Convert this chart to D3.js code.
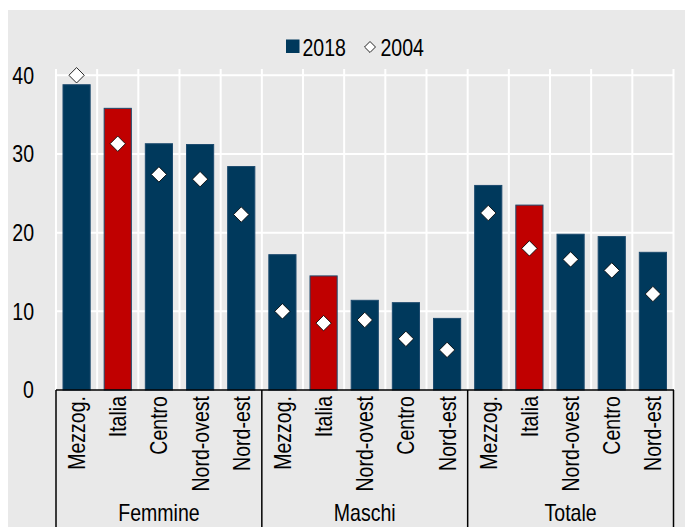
<!DOCTYPE html>
<html>
<head>
<meta charset="utf-8">
<script src="https://d3js.org/d3.v7.min.js"></script>
<style>
  body { margin: 0; background: #fff; }
  svg text { font-family: "Liberation Sans", Arial, sans-serif; fill: #000; }
</style>
</head>
<body>
<div id="chart"></div>
<script>
// categories, groups and values
const categories = ["Mezzog.", "Italia", "Centro", "Nord-ovest", "Nord-est",
                    "Mezzog.", "Italia", "Nord-ovest", "Centro", "Nord-est",
                    "Mezzog.", "Italia", "Nord-ovest", "Centro", "Nord-est"];
const groups = ["Femmine", "Maschi", "Totale"];
const groupSizes = [5, 5, 5];
const values2018 = [38.8, 35.8, 31.3, 31.2, 28.4,
                    17.2, 14.5, 11.4, 11.1, 9.1,
                    26.0, 23.5, 19.8, 19.5, 17.5];
const values2004 = [40.0, 31.3, 27.4, 26.8, 22.3,
                    10.0, 8.5, 8.9, 6.5, 5.1,
                    22.5, 18.0, 16.6, 15.2, 12.2];
const yTicks = [0, 10, 20, 30, 40];
const seriesNames = ["2018", "2004"];

const width = 685, height = 527;
const navy = "#00395c", red = "#c00000", bg = "#e9e9e9";
const fs = 23, narrow = 0.85; // condensed look of the original font

const svg = d3.select("#chart").append("svg")
  .attr("width", width)
  .attr("height", height);

svg.append("rect")
  .attr("x", 8).attr("y", 10)
  .attr("width", width - 8).attr("height", height - 10)
  .attr("fill", bg);

const x = d3.scaleBand()
  .domain(d3.range(categories.length))
  .range([56, 673.5])
  .paddingInner(0.34)
  .paddingOuter(0.17);

const y = d3.scaleLinear()
  .domain([0, 40.8])
  .range([390, 69]);

// grid
const grid = svg.append("g");
grid.selectAll(".hg")
  .data(yTicks.filter(d => d > 0))
  .enter().append("line")
  .attr("x1", 56).attr("x2", 673.5)
  .attr("y1", d => y(d)).attr("y2", d => y(d))
  .attr("stroke", "#fff").attr("stroke-width", 2);
grid.selectAll(".vg")
  .data(d3.range(categories.length + 1))
  .enter().append("line")
  .attr("x1", i => 56 + i * x.step()).attr("x2", i => 56 + i * x.step())
  .attr("y1", y(40.8)).attr("y2", y(0))
  .attr("stroke", "#fff").attr("stroke-width", 2);

// bars 2018
svg.append("g").selectAll("rect")
  .data(values2018)
  .enter().append("rect")
  .attr("x", (d, i) => x(i))
  .attr("width", x.bandwidth())
  .attr("y", d => y(d))
  .attr("height", d => y(0) - y(d))
  .attr("fill", (d, i) => categories[i] === "Italia" ? red : navy)
  .attr("stroke", "#1c4a6e")
  .attr("stroke-width", 1);

// markers 2004
const diamond = d3.symbol().type(d3.symbolSquare).size(118);
svg.append("g").selectAll("path")
  .data(values2004)
  .enter().append("path")
  .attr("d", diamond)
  .attr("transform", (d, i) => `translate(${x(i) + x.bandwidth() / 2},${y(d)}) rotate(45)`)
  .attr("fill", "#fff")
  .attr("stroke", "#000")
  .attr("stroke-width", 0.8);

// y axis labels
svg.append("g").selectAll("text")
  .data(yTicks)
  .enter().append("text")
  .attr("transform", d => `translate(34,${y(d)}) scale(${narrow},1)`)
  .attr("dy", "0.36em")
  .attr("text-anchor", "end")
  .attr("font-size", fs)
  .text(d => d);

// x axis line
svg.append("line")
  .attr("x1", 56).attr("x2", 674)
  .attr("y1", y(0)).attr("y2", y(0))
  .attr("stroke", "#000").attr("stroke-width", 1.5);

// category labels
svg.append("g").selectAll("text")
  .data(categories)
  .enter().append("text")
  .attr("transform", (d, i) => `translate(${x(i) + x.bandwidth() / 2 + 8.5},${y(0) + 6}) rotate(-90) scale(${narrow},1)`)
  .attr("text-anchor", "end")
  .attr("font-size", fs)
  .text(d => d);

// group separators and labels
const bounds = [0];
groupSizes.forEach((s, i) => bounds.push(bounds[i] + s));
svg.append("g").selectAll("line")
  .data(bounds)
  .enter().append("line")
  .attr("x1", b => 56 + b * x.step()).attr("x2", b => 56 + b * x.step())
  .attr("y1", y(0)).attr("y2", height)
  .attr("stroke", "#000").attr("stroke-width", 1.5);
svg.append("g").selectAll("text")
  .data(groups)
  .enter().append("text")
  .attr("transform", (g, i) => `translate(${56 + (bounds[i] + bounds[i + 1]) / 2 * x.step()},521) scale(${narrow},1)`)
  .attr("text-anchor", "middle")
  .attr("font-size", fs)
  .text(g => g);

// legend
const legend = svg.append("g");
legend.append("rect")
  .attr("x", 286).attr("y", 39.5)
  .attr("width", 13.5).attr("height", 13.5)
  .attr("fill", navy);
legend.append("text")
  .attr("transform", `translate(302.5,55.5) scale(${narrow},1)`)
  .attr("font-size", fs)
  .text(seriesNames[0]);
legend.append("path")
  .attr("d", d3.symbol().type(d3.symbolSquare).size(60))
  .attr("transform", "translate(370,47) rotate(45)")
  .attr("fill", "#fff").attr("stroke", "#000").attr("stroke-width", 0.8);
legend.append("text")
  .attr("transform", `translate(380.5,55.5) scale(${narrow},1)`)
  .attr("font-size", fs)
  .text(seriesNames[1]);
</script>
</body>
</html>
